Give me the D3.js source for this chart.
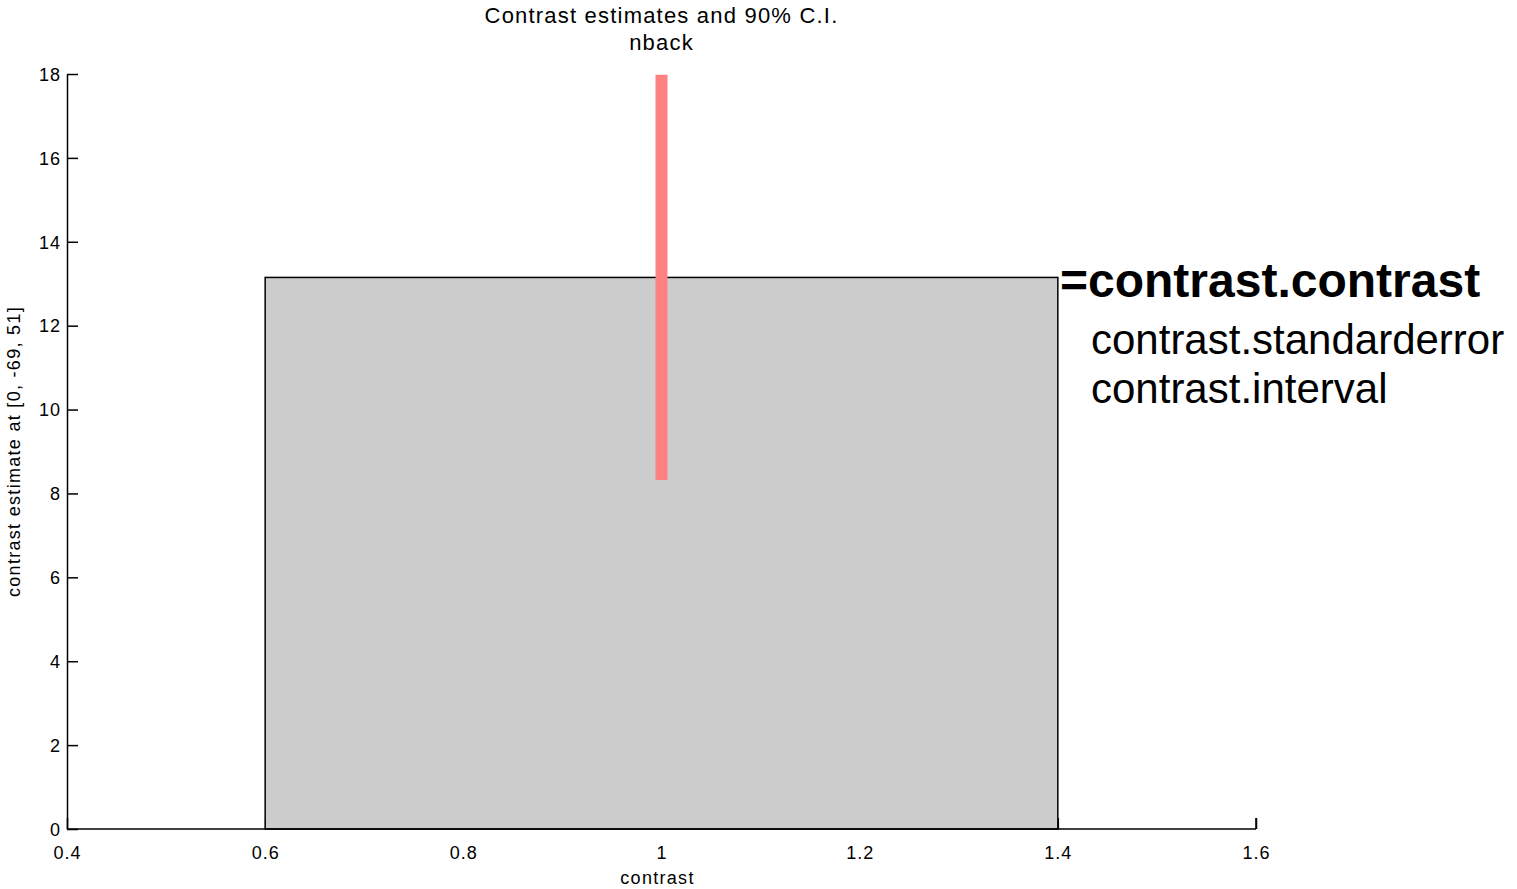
<!DOCTYPE html>
<html>
<head>
<meta charset="utf-8">
<script src="https://cdn.jsdelivr.net/npm/d3@7"></script>
<style>
  html, body { margin: 0; padding: 0; background: #fff; }
  svg { display: block; }
  .mat { font-family: "Liberation Sans", Arial, Helvetica, sans-serif; fill: #000; }
</style>
</head>
<body>
<svg id="chart" width="1517" height="889"></svg>
<script>
// ---- data ----
const categories = [1];
const estimates = [13.15];
const ciLow = [8.32];
const ciHigh = [17.98];
const barWidth = 0.8;
const xTicks = [0.4, 0.6, 0.8, 1, 1.2, 1.4, 1.6];
const xTickLabels = ["0.4", "0.6", "0.8", "1", "1.2", "1.4", "1.6"];
const yTicks = [0, 2, 4, 6, 8, 10, 12, 14, 16, 18];
const titleLines = ["Contrast estimates and 90% C.I.", "nback"];
const xLabel = "contrast";
const yLabel = "contrast estimate at [0, -69, 51]";
const legendLines = ["=contrast.contrast", "contrast.standarderror", "contrast.interval"];

(function () {
// ---- layout ----
const svg = d3.select("#chart");
const pL = 67, pR = 1256, pT = 74, pB = 829;
const x = d3.scaleLinear().domain([0.4, 1.6]).range([pL, pR]);
const y = d3.scaleLinear().domain([0, 18]).range([pB, pT]);

const g = svg.append("g");

// x ticks (drawn beneath bar, as in the reference)
const xAxis = d3.axisBottom(x).tickValues(xTicks).tickFormat((d, i) => xTickLabels[i])
  .tickSizeInner(-11).tickSizeOuter(0).tickPadding(14);
const xa = g.append("g").attr("transform", `translate(0,${pB})`).call(xAxis);
xa.select(".domain").remove();
xa.selectAll(".tick line").attr("stroke", "#000").attr("stroke-width", 1.5);
xa.selectAll(".tick text").attr("class", "mat").attr("font-size", 18).attr("letter-spacing", 1)
  .attr("dy", "0.71em").attr("y", 17);

// bar
g.selectAll("rect.bar").data(categories).enter().append("rect")
  .attr("class", "bar")
  .attr("x", d => x(d - barWidth / 2))
  .attr("width", d => x(d + barWidth / 2) - x(d - barWidth / 2))
  .attr("y", (d, i) => y(estimates[i]))
  .attr("height", (d, i) => y(0) - y(estimates[i]))
  .attr("fill", "#cccccc")
  .attr("stroke", "#000")
  .attr("stroke-width", 1.5);

// confidence interval
g.selectAll("line.ci").data(categories).enter().append("line")
  .attr("class", "ci")
  .attr("x1", d => x(d)).attr("x2", d => x(d))
  .attr("y1", (d, i) => y(ciLow[i]))
  .attr("y2", (d, i) => y(Math.min(ciHigh[i], 18)))
  .attr("stroke", "#ff8080")
  .attr("stroke-width", 12);

// x-axis line
g.append("line").attr("x1", pL).attr("x2", pR).attr("y1", pB).attr("y2", pB)
  .attr("stroke", "#000").attr("stroke-width", 1.5);
// tick at 1.6 (visible in reference)
g.append("line").attr("x1", x(1.6)).attr("x2", x(1.6)).attr("y1", pB).attr("y2", pB - 11)
  .attr("stroke", "#000").attr("stroke-width", 1.5);

// y axis
const yAxis = d3.axisLeft(y).tickValues(yTicks).tickFormat(d3.format("d"))
  .tickSizeInner(-11).tickSizeOuter(0).tickPadding(6);
const ya = g.append("g").attr("transform", `translate(${pL},0)`).call(yAxis);
ya.select(".domain").attr("stroke", "#000").attr("stroke-width", 1.5);
ya.selectAll(".tick line").attr("stroke", "#000").attr("stroke-width", 1.5);
ya.selectAll(".tick text").attr("class", "mat").attr("font-size", 18).attr("letter-spacing", 1)
  .attr("x", -6).attr("dy", "0.35em");

// title
svg.selectAll("text.title").data(titleLines).enter().append("text")
  .attr("class", "mat title")
  .attr("x", x(1)).attr("y", (d, i) => 23 + i * 27)
  .attr("text-anchor", "middle").attr("font-size", 22).attr("letter-spacing", 1.2)
  .text(d => d);

// x label
svg.append("text").attr("class", "mat").attr("x", x(1) - 4).attr("y", 884)
  .attr("text-anchor", "middle").attr("font-size", 18).attr("letter-spacing", 1.3).text(xLabel);

// y label
svg.append("text").attr("class", "mat")
  .attr("transform", `translate(20,${(pT + pB) / 2}) rotate(-90)`)
  .attr("text-anchor", "middle").attr("font-size", 18).attr("letter-spacing", 1.3).text(yLabel);

// annotation text
const legendX = [1060, 1091, 1091];
const legendY = [297, 354, 403];
svg.selectAll("text.leg").data(legendLines).enter().append("text")
  .attr("class", "leg")
  .attr("x", (d, i) => legendX[i]).attr("y", (d, i) => legendY[i])
  .attr("font-family", "Liberation Sans, Arial, Helvetica, sans-serif")
  .attr("font-weight", (d, i) => i === 0 ? "bold" : "normal")
  .attr("font-size", (d, i) => i === 0 ? 48 : 42)
  .attr("fill", "#000")
  .text(d => d);
})();
</script>
</body>
</html>
